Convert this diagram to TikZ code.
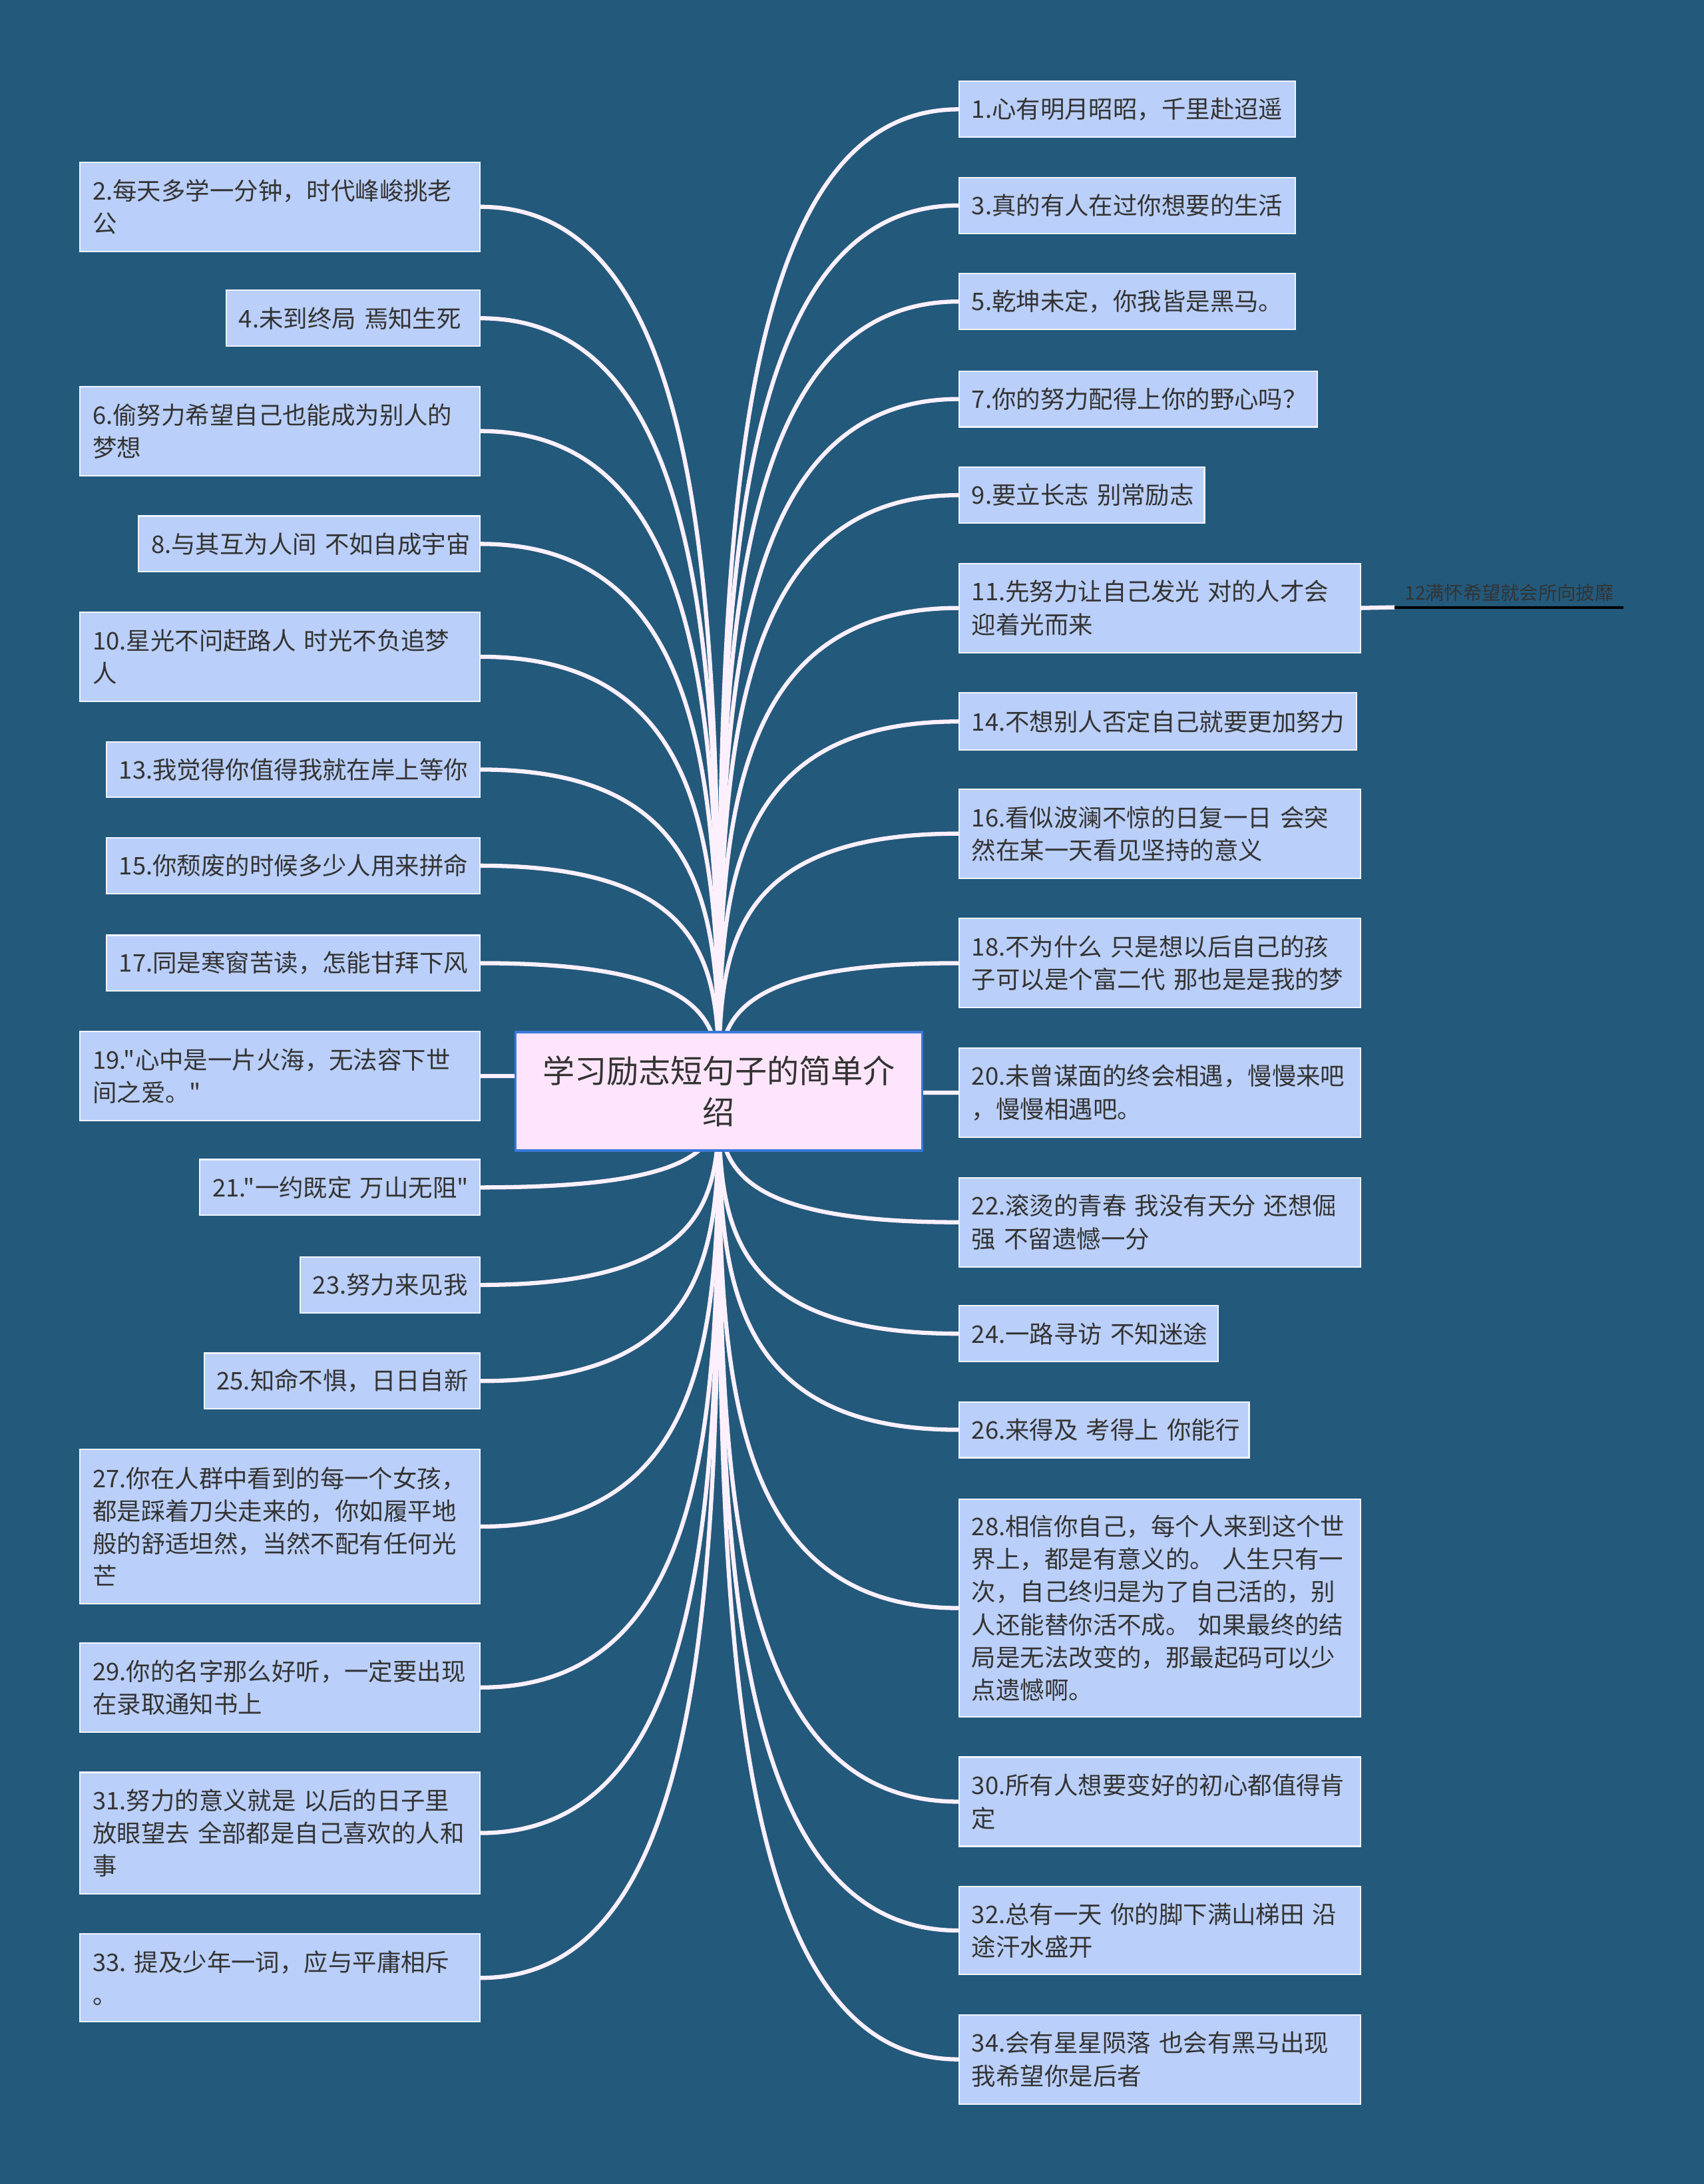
\documentclass[tikz,border=0pt]{standalone}
\usepackage{fontspec}
\newfontfamily\cjk{Noto Sans CJK SC}
\setmainfont{Noto Sans CJK SC}
\usetikzlibrary{calc}
\definecolor{bgc}{RGB}{35,89,123}
\definecolor{leaffill}{RGB}{186,207,250}
\definecolor{leafline}{RGB}{240,244,255}
\definecolor{rootfill}{RGB}{255,229,251}
\definecolor{rootline}{RGB}{58,120,216}
\definecolor{txt}{RGB}{51,51,51}
\definecolor{connc}{RGB}{253,240,253}
\pgfdeclarelayer{back}
\pgfdeclarelayer{edges}
\pgfsetlayers{back,edges,main}
\begin{document}
\begin{tikzpicture}[x=1pt,y=-1pt,
  leaf/.style={draw=leafline, line width=1pt, fill=leaffill, text=txt,
    inner xsep=9pt, inner ysep=2pt, align=left,
    font=\cjk\fontsize{17.4}{23.5}\selectfont},
  rootbox/.style={draw=rootline, line width=1.5pt, fill=rootfill, text=txt,
    align=center, minimum width=292pt, minimum height=85pt,
    font=\cjk\fontsize{23}{30}\selectfont},
  lbl/.style={text=txt, inner xsep=7pt, inner ysep=4pt, minimum width=164pt,
    font=\cjk\fontsize{13.5}{16}\selectfont},
  conn/.style={draw=connc, line width=3pt}]

\begin{pgfonlayer}{back}
\fill[bgc] (0,0) rectangle (1223,1568);
\end{pgfonlayer}

\node[rootbox] (c) at (516,783.5) {学习励志短句子的简单介\\绍};

% right column
\node[leaf, anchor=north west, minimum width=241pt, text width=223pt, minimum height=40pt] (n1) at (688,58) {1.心有明月昭昭，千里赴迢遥};
\node[leaf, anchor=north west, minimum width=241pt, text width=223pt, minimum height=40pt] (n3) at (688,127) {3.真的有人在过你想要的生活};
\node[leaf, anchor=north west, minimum width=241pt, text width=223pt, minimum height=40pt] (n5) at (688,196) {5.乾坤未定，你我皆是黑马。};
\node[leaf, anchor=north west, minimum width=257pt, text width=239pt, minimum height=40pt] (n7) at (688,266) {7.你的努力配得上你的野心吗？};
\node[leaf, anchor=north west, minimum width=176pt, text width=158pt, minimum height=40pt] (n9) at (688,335) {9.要立长志~别常励志};
\node[leaf, anchor=north west, minimum width=288pt, text width=270pt, minimum height=64pt] (n11) at (688,404) {11.先努力让自己发光~对的人才会\\迎着光而来};
\node[leaf, anchor=north west, minimum width=285pt, text width=267pt, minimum height=41pt] (n14) at (688,497) {14.不想别人否定自己就要更加努力};
\node[leaf, anchor=north west, minimum width=288pt, text width=270pt, minimum height=64pt] (n16) at (688,566) {16.看似波澜不惊的日复一日~会突\\然在某一天看见坚持的意义};
\node[leaf, anchor=north west, minimum width=288pt, text width=270pt, minimum height=64pt] (n18) at (688,659) {18.不为什么~只是想以后自己的孩\\子可以是个富二代~那也是是我的梦};
\node[leaf, anchor=north west, minimum width=288pt, text width=270pt, minimum height=64pt] (n20) at (688,752) {20.未曾谋面的终会相遇，慢慢来吧\\，慢慢相遇吧。};
\node[leaf, anchor=north west, minimum width=288pt, text width=270pt, minimum height=64pt] (n22) at (688,845) {22.滚烫的青春~我没有天分~还想倔\\强~不留遗憾一分};
\node[leaf, anchor=north west, minimum width=186pt, text width=168pt, minimum height=40pt] (n24) at (688,937) {24.一路寻访~不知迷途};
\node[leaf, anchor=north west, minimum width=208pt, text width=190pt, minimum height=40pt] (n26) at (688,1006) {26.来得及~考得上~你能行};
\node[leaf, anchor=north west, minimum width=288pt, text width=270pt, minimum height=156pt] (n28) at (688,1076) {28.相信你自己，每个人来到这个世\\界上，都是有意义的。~人生只有一\\次，自己终归是为了自己活的，别\\人还能替你活不成。~如果最终的结\\局是无法改变的，那最起码可以少\\点遗憾啊。};
\node[leaf, anchor=north west, minimum width=288pt, text width=270pt, minimum height=64pt] (n30) at (688,1261) {30.所有人想要变好的初心都值得肯\\定};
\node[leaf, anchor=north west, minimum width=288pt, text width=270pt, minimum height=63pt] (n32) at (688,1354) {32.总有一天~你的脚下满山梯田~沿\\途汗水盛开};
\node[leaf, anchor=north west, minimum width=288pt, text width=270pt, minimum height=64pt] (n34) at (688,1446) {34.会有星星陨落~也会有黑马出现\\我希望你是后者};

% left column
\node[leaf, anchor=north east, minimum width=287pt, text width=269pt, minimum height=64pt] (n2) at (345,116) {2.每天多学一分钟，时代峰峻挑老\\公};
\node[leaf, anchor=north east, minimum width=182pt, text width=164pt, minimum height=40pt] (n4) at (345,208) {4.未到终局~焉知生死};
\node[leaf, anchor=north east, minimum width=287pt, text width=269pt, minimum height=64pt] (n6) at (345,277) {6.偷努力希望自己也能成为别人的\\梦想};
\node[leaf, anchor=north east, minimum width=245pt, text width=227pt, minimum height=40pt] (n8) at (345,370) {8.与其互为人间~不如自成宇宙};
\node[leaf, anchor=north east, minimum width=287pt, text width=269pt, minimum height=64pt] (n10) at (345,439) {10.星光不问赶路人~时光不负追梦\\人};
\node[leaf, anchor=north east, minimum width=268pt, text width=250pt, minimum height=40pt] (n13) at (345,532) {13.我觉得你值得我就在岸上等你};
\node[leaf, anchor=north east, minimum width=268pt, text width=250pt, minimum height=40pt] (n15) at (345,601) {15.你颓废的时候多少人用来拼命};
\node[leaf, anchor=north east, minimum width=268pt, text width=250pt, minimum height=40pt] (n17) at (345,671) {17.同是寒窗苦读，怎能甘拜下风};
\node[leaf, anchor=north east, minimum width=287pt, text width=269pt, minimum height=64pt] (n19) at (345,740) {19."心中是一片火海，无法容下世\\间之爱。"};
\node[leaf, anchor=north east, minimum width=201pt, text width=183pt, minimum height=40pt] (n21) at (345,832) {21."一约既定~万山无阻"};
\node[leaf, anchor=north east, minimum width=129pt, text width=111pt, minimum height=40pt] (n23) at (345,902) {23.努力来见我};
\node[leaf, anchor=north east, minimum width=198pt, text width=180pt, minimum height=40pt] (n25) at (345,971) {25.知命不惧，日日自新};
\node[leaf, anchor=north east, minimum width=287pt, text width=269pt, minimum height=111pt] (n27) at (345,1040) {27.你在人群中看到的每一个女孩，\\都是踩着刀尖走来的，你如履平地\\般的舒适坦然，当然不配有任何光\\芒};
\node[leaf, anchor=north east, minimum width=287pt, text width=269pt, minimum height=64pt] (n29) at (345,1179) {29.你的名字那么好听，一定要出现\\在录取通知书上};
\node[leaf, anchor=north east, minimum width=287pt, text width=269pt, minimum height=87pt] (n31) at (345,1272) {31.努力的意义就是~以后的日子里\\放眼望去~全部都是自己喜欢的人和\\事};
\node[leaf, anchor=north east, minimum width=287pt, text width=269pt, minimum height=63pt] (n33) at (345,1388) {33.~提及少年一词，应与平庸相斥\\。};

% sub label of 11
\node[lbl, anchor=south west] (l12) at (1001,436) {12满怀希望就会所向披靡};

\begin{pgfonlayer}{edges}
\foreach \n/\s in {n1/west,n3/west,n5/west,n7/west,n9/west,n11/west,n14/west,n16/west,n18/west,n20/west,n22/west,n24/west,n26/west,n28/west,n30/west,n32/west,n34/west,
  n2/east,n4/east,n6/east,n8/east,n10/east,n13/east,n15/east,n17/east,n19/east,n21/east,n23/east,n25/east,n27/east,n29/east,n31/east,n33/east}
  \draw[conn] (c.center) .. controls ($(c.center)!0.5!(c.center|-\n.\s)$) and (c.center|-\n.\s) .. (\n.\s);
\draw[conn] (n11.east) -- (l12.south west);
\end{pgfonlayer}
\draw[line width=2pt, black] (l12.south west) -- (l12.south east);

\end{tikzpicture}
\end{document}
